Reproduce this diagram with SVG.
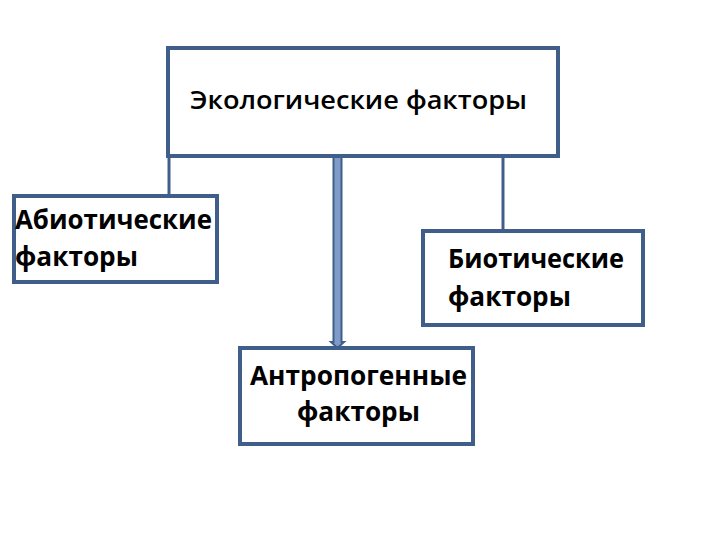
<svg xmlns="http://www.w3.org/2000/svg" width="720" height="540" viewBox="0 0 720 540">
<style>
.box{fill:#fff;stroke:#3F5F8A;stroke-width:4}
.ln{fill:none;stroke:#3F5F8A;stroke-width:3}
text{font-family:"Open Sans","Noto Sans",sans-serif;font-weight:bold;font-size:27px;fill:#000}
.t{font-size:26px;font-weight:600}
</style>
<rect width="720" height="540" fill="#fff"/>
<g id="connectors">
<line class="ln" x1="169" y1="156" x2="169" y2="196"/>
<line class="ln" x1="503" y1="156" x2="503" y2="230"/>
<path d="M333.5 156 V342 H331 L337.5 348 L344 342 H341.5 V156 Z" fill="#7F9CC8" stroke="#3F5F8A" stroke-width="2"/>
</g>
<g id="ecological">
<rect class="box" x="168" y="48" width="390" height="108"/>
<text class="t" x="190" y="109" textLength="337" lengthAdjust="spacingAndGlyphs">Экологические факторы</text>
</g>
<g id="abiotic">
<rect class="box" x="14" y="196" width="203" height="86"/>
<text x="15" y="229" textLength="197" lengthAdjust="spacingAndGlyphs">Абиотические</text>
<text x="15" y="266" textLength="123" lengthAdjust="spacingAndGlyphs">факторы</text>
</g>
<g id="biotic">
<rect class="box" x="423" y="231" width="220" height="94"/>
<text x="448" y="268" textLength="176" lengthAdjust="spacingAndGlyphs">Биотические</text>
<text x="448" y="306" textLength="123" lengthAdjust="spacingAndGlyphs">факторы</text>
</g>
<g id="anthropogenic">
<rect class="box" x="240" y="348" width="233" height="96"/>
<text x="250" y="385" textLength="217" lengthAdjust="spacingAndGlyphs">Антропогенные</text>
<text x="297" y="421" textLength="123" lengthAdjust="spacingAndGlyphs">факторы</text>
</g>
</svg>
